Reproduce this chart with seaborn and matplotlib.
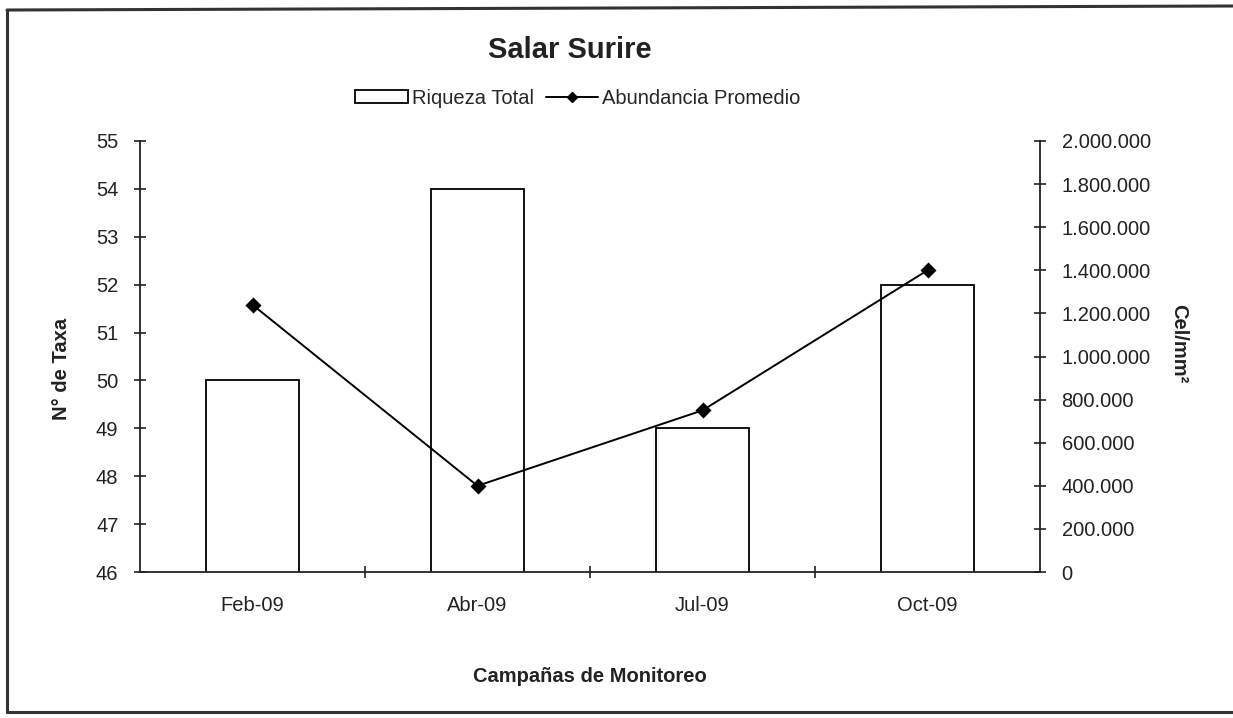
import matplotlib
matplotlib.use("Agg")
import matplotlib.pyplot as plt
from matplotlib.lines import Line2D
from matplotlib.patches import Patch
import seaborn as sns
import pandas as pd

# Monitoring campaigns and measured values
campanas = ["Feb-09", "Abr-09", "Jul-09", "Oct-09"]
riqueza_total = [50, 54, 49, 52]
abundancia_promedio = [1240000, 400000, 750000, 1400000]

left_ticks = list(range(46, 56))
right_ticks = list(range(0, 2000001, 200000))

sns.set_theme(style="white")
plt.rcParams["font.family"] = ["Liberation Sans", "DejaVu Sans"]

df = pd.DataFrame({
    "Campaña": campanas,
    "Riqueza": riqueza_total,
    "Abundancia": abundancia_promedio,
})

W, H = 1233, 718
fig = plt.figure(figsize=(W / 100, H / 100), dpi=100)
fig.patch.set_facecolor("white")

TXT = "#222222"
FS = 14.5

x0, x1 = 140 / W, 1040 / W
y_bot, y_top = 1 - 572 / H, 1 - 141 / H
ax = fig.add_axes([x0, y_bot, x1 - x0, y_top - y_bot])

# Bars: total richness (left axis)
sns.barplot(data=df, x="Campaña", y="Riqueza", ax=ax, width=0.41,
            color="white", edgecolor="black", linewidth=1.3, errorbar=None,
            order=campanas)
ax.set_ylim(46, 55)
ax.set_xlim(-0.5, 3.5)
ax.set_yticks(left_ticks)
ax.set_yticklabels([str(t) for t in left_ticks], fontsize=FS)

# Line: mean abundance (right axis)
ax2 = ax.twinx()
sns.pointplot(data=df, x="Campaña", y="Abundancia", ax=ax2, order=campanas,
              color="black", markers="D", markersize=7, linewidth=1.4,
              errorbar=None)
ax2.set_ylim(0, 2000000)
ax2.set_xlim(-0.5, 3.5)
ax2.set_yticks(right_ticks)
ax2.set_yticklabels([f"{t:,}".replace(",", ".") for t in right_ticks],
                    fontsize=FS)

for a in (ax, ax2):
    for s in a.spines.values():
        s.set_visible(False)
    a.set_facecolor("none")
    a.grid(False)

ax.spines["left"].set_visible(True)
ax.spines["bottom"].set_visible(True)
ax2.spines["right"].set_visible(True)
for s in (ax.spines["left"], ax.spines["bottom"], ax2.spines["right"]):
    s.set_color(TXT)
    s.set_linewidth(1.3)

# Crossing tick marks on both value axes
ax.tick_params(axis="y", which="major", direction="inout", length=9,
               width=1.2, color=TXT, left=True, labelcolor=TXT, pad=11)
ax2.tick_params(axis="y", which="major", direction="inout", length=9,
                width=1.2, color=TXT, right=True, labelcolor=TXT, pad=11)

# Category labels centred, tick marks at category boundaries
ax.set_xticks(range(len(campanas)))
ax.set_xticklabels(campanas, fontsize=FS, color=TXT)
ax.tick_params(axis="x", which="major", length=0, pad=17)
ax.set_xticks([0.5, 1.5, 2.5], minor=True)
ax.tick_params(axis="x", which="minor", direction="inout", length=8,
               width=1.2, color=TXT, bottom=True)
ax2.tick_params(axis="x", length=0)

ax.set_xlabel("Campañas de Monitoreo", fontsize=FS, fontweight="bold",
              labelpad=38, color=TXT)
ax.set_ylabel("N° de Taxa", fontsize=FS, fontweight="bold",
              labelpad=18, color=TXT)
ax.yaxis.label.set_y(0.47)
ax2.set_ylabel("Cel/mm²", fontsize=FS, fontweight="bold", rotation=-90,
               labelpad=27, color=TXT)
ax2.yaxis.label.set_y(0.53)

fig.text(570 / W, 1 - 50 / H, "Salar Surire", ha="center", va="center",
         fontsize=21, fontweight="bold", color=TXT)

handles = [
    Patch(facecolor="white", edgecolor="black", linewidth=1.3),
    Line2D([0], [0], color="black", linewidth=1.4, marker="D", markersize=5),
]
fig.legend(handles, ["Riqueza Total", "Abundancia Promedio"],
           loc="center", bbox_to_anchor=(578 / W, 1 - 98 / H), ncol=2,
           frameon=False, fontsize=FS, handlelength=2.6, handleheight=0.6,
           handletextpad=0.2, columnspacing=0.6)

# Outer frame around the chart area
frame_kw = dict(color="#333333", linewidth=2.2, transform=fig.transFigure)
fig.add_artist(Line2D([7 / W, 1.0], [1 - 10 / H, 1 - 6 / H], **frame_kw))
fig.add_artist(Line2D([7 / W, 7 / W], [1 - 10 / H, 1 - 712 / H], **frame_kw))
fig.add_artist(Line2D([7 / W, 1.0], [1 - 712 / H, 1 - 712 / H], **frame_kw))

fig.savefig("out.png", dpi=100, facecolor="white")
